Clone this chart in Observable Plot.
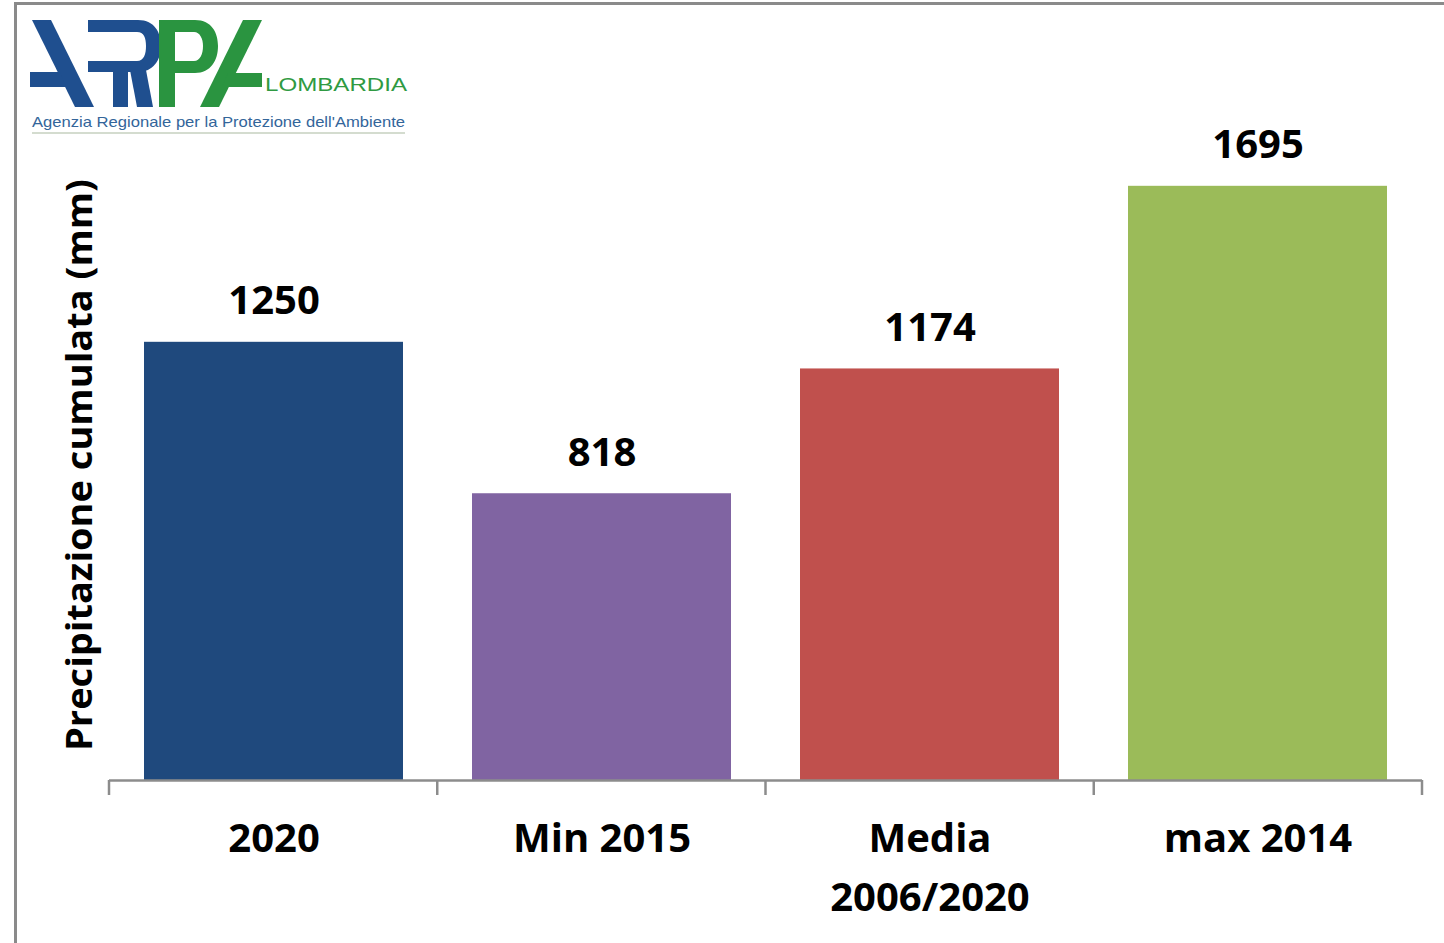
<!DOCTYPE html>
<html>
<head>
<meta charset="utf-8">
<script src="https://cdn.jsdelivr.net/npm/d3@7"></script>
<script src="https://cdn.jsdelivr.net/npm/@observablehq/plot@0.6"></script>
<style>
  html, body { margin: 0; padding: 0; background: #fff; }
  #wrap { position: relative; width: 1444px; height: 943px; overflow: hidden; }
  #frame { position: absolute; left: 14px; top: 2px; width: 1500px; height: 1000px;
           border-left: 3px solid #8a8a8a; border-top: 3px solid #8a8a8a; box-sizing: border-box; }
  #logo { position: absolute; left: 0; top: 0; }
  #chart { position: absolute; left: 0; top: 0; }
</style>
</head>
<body>
<div id="wrap">
  <div id="chart"></div>
  <div id="frame"></div>
  <svg id="logo" width="440" height="150" viewBox="0 0 440 150">
    <g fill="#1f4f8f" fill-rule="evenodd">
      <polygon points="32,20 51,20 94,107 75,107"/>
      <polygon points="30,72 60,72 66,87 30,87"/>
      <path d="M88,20 L138,20 C155,20 161,33 161,46 C161,60 153,72 138,72 L88,72 L88,61 L137,61 C144,61 146,54 146,46 C146,38 144,32 137,32 L88,32 Z"/>
      <polygon points="113,66 128,66 128,107 113,107"/>
      <polygon points="130,70 146,70 153,107 137,107"/>
    </g>
    <g fill="#2a9440" fill-rule="evenodd">
      <path d="M159,20 L195,20 C212,20 218,33 218,46 C218,60 211,73 195,73 L175,73 L175,107 L159,107 Z M175,32 L194,32 C200,32 203,39 203,46 C203,54 200,61 194,61 L175,61 Z"/>
      <polygon points="200,107 219,107 262,20 243,20"/>
      <polygon points="228,73 262,73 262,87 222,87"/>
    </g>
    <text x="265" y="91" font-family="Liberation Sans, Arial, sans-serif" font-size="19" fill="#2f9a42" textLength="142" lengthAdjust="spacingAndGlyphs">LOMBARDIA</text>
    <text x="32" y="127" font-family="Liberation Sans, Arial, sans-serif" font-size="15" fill="#33659a" textLength="373" lengthAdjust="spacingAndGlyphs">Agenzia Regionale per la Protezione dell'Ambiente</text>
    <line x1="32" y1="133" x2="405" y2="133" stroke="#d4dccf" stroke-width="2"/>
  </svg>
</div>
<script>
const categories = ["2020", "Min 2015", "Media\n2006/2020", "max 2014"];
const values = [1250, 818, 1174, 1695];
const colors = ["#1F497D", "#8064A2", "#C0504D", "#9BBB59"];
const yTitle = "Precipitazione cumulata (mm)";

const data = categories.map((c, i) => ({cat: c, value: values[i], color: colors[i]}));

const boundaryTicks = (index, scales, vals, dims) => {
  const g = d3.create("svg:g").attr("stroke", "#8c8c8c").attr("stroke-width", 2.5);
  const n = categories.length;
  const x0 = dims.marginLeft, x1 = dims.width - dims.marginRight;
  const y0 = scales.y(0);
  for (let i = 0; i <= n; i++) {
    const x = x0 + i * (x1 - x0) / n;
    g.append("line").attr("x1", x).attr("x2", x).attr("y1", y0).attr("y2", y0 + 15);
  }
  return g.node();
};

const chart = Plot.plot({
  width: 1444,
  height: 943,
  marginLeft: 109,
  marginRight: 22,
  marginTop: 149,
  marginBottom: 163,
  style: {fontFamily: "'Open Sans', sans-serif", background: "transparent"},
  x: {domain: categories, paddingInner: 0.21, paddingOuter: 0.105, axis: null},
  y: {domain: [0, 1800], axis: null},
  marks: [
    Plot.barY(data, {x: "cat", y: "value", fill: "color"}),
    Plot.ruleY([0], {stroke: "#8c8c8c", strokeWidth: 2.5}),
    boundaryTicks,
    Plot.text(data, {x: "cat", y: "value", text: d => String(d.value), dy: -28, lineAnchor: "bottom",
      fontSize: 40, fontWeight: "bold", fill: "#000"}),
    Plot.text(data, {x: "cat", y: 0, text: "cat", dy: 30, lineAnchor: "top", lineHeight: 1.47,
      fontSize: 40, fontWeight: "bold", fill: "#000"}),
    Plot.text([yTitle], {frameAnchor: "left", text: d => d, rotate: -90, dx: -29, textAnchor: "middle",
      fontSize: 36, fontWeight: "bold", fill: "#000", className: "ytitle"})
  ]
});
document.getElementById("chart").appendChild(chart);
chart.querySelectorAll(".ytitle text").forEach(t => {
  t.setAttribute("textLength", "572");
  t.setAttribute("lengthAdjust", "spacingAndGlyphs");
});
</script>
</body>
</html>
